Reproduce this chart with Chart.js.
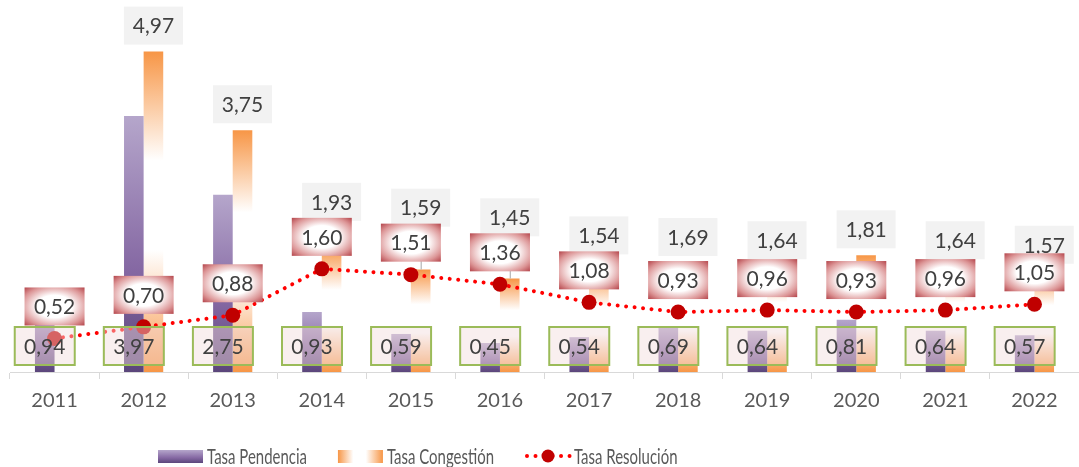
<!DOCTYPE html>
<html>
<head>
<meta charset="utf-8">
<script src="https://cdn.jsdelivr.net/npm/chart.js@4.4.1/dist/chart.umd.min.js"></script>
<style>
  html, body { margin: 0; padding: 0; background: #fff; }
</style>
</head>
<body>
<canvas id="chart" width="1079" height="467"></canvas>
<script>
const years = ['2011', '2012', '2013', '2014', '2015', '2016', '2017', '2018', '2019', '2020', '2021', '2022'];
const tasaPendencia = [0.94, 3.97, 2.75, 0.93, 0.59, 0.45, 0.54, 0.69, 0.64, 0.81, 0.64, 0.57];
const tasaCongestion = [null, 4.97, 3.75, 1.93, 1.59, 1.45, 1.54, 1.69, 1.64, 1.81, 1.64, 1.57];
const tasaResolucion = [0.52, 0.70, 0.88, 1.60, 1.51, 1.36, 1.08, 0.93, 0.96, 0.93, 0.96, 1.05];
const seriesNames = ['Tasa Pendencia', 'Tasa Congestión', 'Tasa Resolución'];

const ORANGE = '#f79646';
const fmt = v => v.toFixed(2).replace('.', ',');

function purpleGradient(ctx, x0, y0, x1, y1) {
  const g = ctx.createLinearGradient(x0, y0, x1, y1);
  g.addColorStop(0, '#b5a6cb');
  g.addColorStop(0.6, '#8568a3');
  g.addColorStop(1, '#5b467b');
  return g;
}

function orangeGradient(ctx, x0, y0, x1, y1) {
  const g = ctx.createLinearGradient(x0, y0, x1, y1);
  g.addColorStop(0, ORANGE);
  g.addColorStop(0.34, '#ffffff');
  g.addColorStop(0.62, '#ffffff');
  g.addColorStop(1, ORANGE);
  return g;
}

// bar fill, gradient runs over the length of each bar
function barFill(kind) {
  return c => {
    const chart = c.chart;
    if (!chart.chartArea || c.raw == null) return kind === 'p' ? '#8064a2' : ORANGE;
    const y = chart.scales.y;
    const top = y.getPixelForValue(c.raw);
    const base = y.getPixelForValue(0);
    return kind === 'p'
      ? purpleGradient(chart.ctx, 0, top, 0, base)
      : orangeGradient(chart.ctx, 0, top, 0, base);
  };
}

function redBox(ctx, cx, cy, w, h) {
  ctx.save();
  ctx.translate(cx, cy);
  ctx.scale(w / h, 1);
  const r = Math.SQRT2 * h / 2;
  const g = ctx.createRadialGradient(0, 0, 0, 0, 0, r);
  g.addColorStop(0, '#ffffff');
  g.addColorStop(0.42, '#ffffff');
  g.addColorStop(0.78, '#dc9596');
  g.addColorStop(1, '#b4444a');
  ctx.fillStyle = g;
  ctx.fillRect(-h / 2, -h / 2, h, h);
  ctx.restore();
}

const boxLabels = {
  id: 'boxLabels',
  afterDatasetsDraw(chart) {
    const ctx = chart.ctx;
    const pend = chart.getDatasetMeta(0).data;
    const cong = chart.getDatasetMeta(1).data;
    const res = chart.getDatasetMeta(2).data;
    const W = 60, H = 38;
    ctx.save();
    ctx.font = '21px Lato';
    ctx.textAlign = 'center';
    ctx.textBaseline = 'middle';

    // Tasa Pendencia: green boxes at the foot of the bars
    pend.forEach((bar, i) => {
      const x = bar.x - W / 2, y = bar.base - 7 - H;
      ctx.fillStyle = 'rgba(242,220,219,0.45)';
      ctx.fillRect(x, y, W, H);
      ctx.strokeStyle = '#9bbb59';
      ctx.lineWidth = 2;
      ctx.strokeRect(x, y, W, H);
      ctx.fillStyle = '#404040';
      ctx.fillText(fmt(tasaPendencia[i]), bar.x, y + H / 2 + 1);
    });

    const redTop = res.map(p => p.y - 13 - H);

    // Tasa Congestion: grey boxes over the bars, pushed up when under a red box
    cong.forEach((bar, i) => {
      if (tasaCongestion[i] == null) return;
      let bottom = bar.y - 7;
      if (bottom - redTop[i] > 13) {
        bottom = redTop[i] + 3;
        ctx.strokeStyle = '#a6a6a6';
        ctx.lineWidth = 1;
        ctx.beginPath();
        ctx.moveTo(bar.x + 0.5, bottom);
        ctx.lineTo(bar.x + 0.5, bar.y);
        ctx.stroke();
      }
      ctx.fillStyle = '#f2f2f2';
      ctx.fillRect(bar.x - 29.5, bottom - H, 59, H);
      ctx.fillStyle = '#404040';
      ctx.fillText(fmt(tasaCongestion[i]), bar.x, bottom - H / 2 + 1);
    });

    // Tasa Resolucion: red gradient boxes above the points
    res.forEach((p, i) => {
      redBox(ctx, p.x, redTop[i] + H / 2, W, H);
      ctx.fillStyle = '#404040';
      ctx.fillText(fmt(tasaResolucion[i]), p.x, redTop[i] + H / 2 + 1);
    });
    ctx.restore();
  },
  afterDraw(chart) {
    const ctx = chart.ctx;
    const sx = 0.68;
    const cy = 456;
    let x = 158;
    ctx.save();
    ctx.font = '22px Lato';
    ctx.textBaseline = 'middle';
    ctx.textAlign = 'left';
    seriesNames.forEach((name, i) => {
      if (i === 0) {
        ctx.fillStyle = purpleGradient(ctx, 0, cy - 6, 0, cy + 7);
        ctx.fillRect(x, cy - 6, 45, 13);
      } else if (i === 1) {
        ctx.fillStyle = orangeGradient(ctx, x, 0, x + 45, 0);
        ctx.fillRect(x, cy - 6, 45, 13);
      } else {
        ctx.strokeStyle = '#ff0000';
        ctx.lineWidth = 4;
        ctx.lineCap = 'round';
        ctx.setLineDash([0.01, 8.5]);
        ctx.beginPath();
        ctx.moveTo(x + 2, cy);
        ctx.lineTo(x + 45, cy);
        ctx.stroke();
        ctx.setLineDash([]);
        ctx.fillStyle = '#c00000';
        ctx.beginPath();
        ctx.arc(x + 23, cy, 6.5, 0, Math.PI * 2);
        ctx.fill();
      }
      x += 49;
      ctx.save();
      ctx.translate(x, cy);
      ctx.scale(sx, 1);
      ctx.fillStyle = '#595959';
      ctx.fillText(name, 0, 1);
      const w = ctx.measureText(name).width * sx;
      ctx.restore();
      x += w + 31;
    });
    ctx.restore();
  }
};

new Chart(document.getElementById('chart').getContext('2d'), {
  data: {
    labels: years,
    datasets: [
      {
        type: 'bar',
        label: seriesNames[0],
        data: tasaPendencia,
        backgroundColor: barFill('p'),
        categoryPercentage: 0.44,
        barPercentage: 1,
        order: 1
      },
      {
        type: 'bar',
        label: seriesNames[1],
        data: tasaCongestion,
        backgroundColor: barFill('o'),
        categoryPercentage: 0.44,
        barPercentage: 1,
        order: 1
      },
      {
        type: 'line',
        label: seriesNames[2],
        data: tasaResolucion,
        borderColor: '#ff0000',
        borderWidth: 4,
        borderDash: [0.01, 8.5],
        borderCapStyle: 'round',
        pointRadius: 7.5,
        pointBackgroundColor: '#c00000',
        pointBorderWidth: 0,
        tension: 0,
        clip: false,
        order: 0
      }
    ]
  },
  options: {
    responsive: false,
    animation: false,
    devicePixelRatio: 1,
    layout: { autoPadding: false, padding: { left: 10, right: 0, top: 0, bottom: 0 } },
    plugins: {
      legend: { display: false },
      tooltip: { enabled: false }
    },
    scales: {
      x: {
        grid: {
          display: true,
          drawOnChartArea: false,
          drawTicks: true,
          tickLength: 7,
          color: '#d9d9d9',
          offset: true
        },
        border: { display: true, color: '#d9d9d9', width: 1 },
        ticks: {
          font: { family: 'Lato', size: 20 },
          color: '#595959',
          padding: 10,
          maxRotation: 0
        },
        afterFit: s => { s.height = 95; }
      },
      y: { display: false, min: 0, max: 5.77 }
    }
  },
  plugins: [boxLabels]
});
</script>
</body>
</html>
